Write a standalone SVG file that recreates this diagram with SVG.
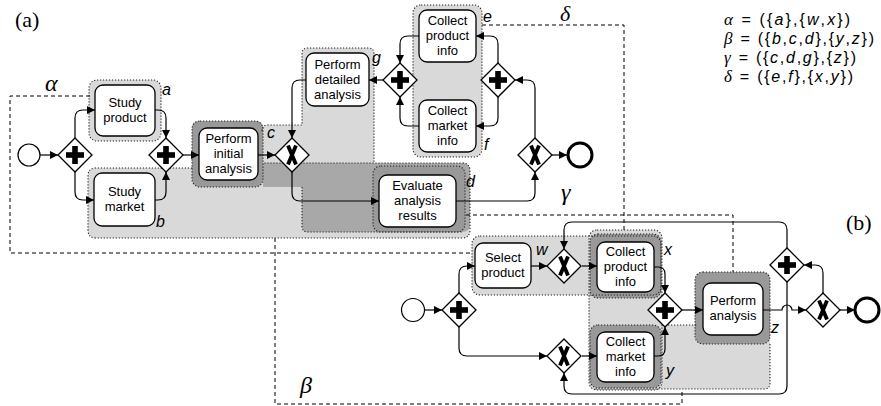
<svg xmlns="http://www.w3.org/2000/svg" width="881" height="406" viewBox="0 0 881 406">
<style>
.bg{fill:#fff}
.lt{fill:#d9d9d9}
.dk{fill:#a8a8a8}
.ring{fill:#999}
.dot{fill:none;stroke:#222;stroke-width:1.1;stroke-dasharray:1.2 1.8}
.dash{fill:none;stroke:#000;stroke-width:1;stroke-dasharray:4 3}
.task{fill:#fff;stroke:#000;stroke-width:1.3}
.tt{font-family:"Liberation Sans",Arial,sans-serif;font-size:13px;fill:#000;text-anchor:middle}
.lb{font-family:"Liberation Sans",Arial,sans-serif;font-size:16px;font-style:italic;fill:#000}
.gk{font-family:"Liberation Serif","Times New Roman",serif;font-size:24px;font-style:italic;fill:#000}
.pl{font-family:"Liberation Serif","Times New Roman",serif;font-size:22px;fill:#000}
.fm{font-family:"Liberation Sans",Arial,sans-serif;font-size:16px;fill:#000}
.fg{font-family:"Liberation Serif","Times New Roman",serif;font-size:17px;font-style:italic}
.it{font-style:italic}
.flow{fill:none;stroke:#000;stroke-width:1.2;marker-end:url(#arr)}
.start{fill:#fff;stroke:#000;stroke-width:1.2}
.end{fill:#fff;stroke:#000;stroke-width:3}
</style>
<defs>
<marker id="arr" viewBox="0 0 10 10" refX="10" refY="5" markerWidth="10" markerHeight="8" markerUnits="userSpaceOnUse" orient="auto">
<path d="M0,0 L10,5 L0,10 Z" fill="#000"/>
</marker>
<g id="and">
<path d="M0,-17 L17,0 L0,17 L-17,0 Z" fill="#fff" stroke="#000" stroke-width="1.3"/>
<rect x="-9" y="-2.8" width="18" height="5.6" fill="#000"/>
<rect x="-2.8" y="-9" width="5.6" height="18" fill="#000"/>
</g>
<g id="xor">
<path d="M0,-17 L17,0 L0,17 L-17,0 Z" fill="#fff" stroke="#000" stroke-width="1.3"/>
<path d="M-4,-9.5 L4,9.5 M4,-9.5 L-4,9.5" stroke="#000" stroke-width="3.8" fill="none"/>
</g>
</defs>
<rect class="bg" x="0" y="0" width="881" height="406"/>

<!-- shaded fragment regions, part (a) -->
<g id="regions-a">
<path class="lt" d="M88,176 Q88,168 96,168 H192 V127 Q192,121 198,121 H257 Q263,121 263,127 V163 H462 Q470,163 470,171 V230 Q470,238 462,238 H96 Q88,238 88,230 Z"/>
<path class="lt" d="M262,131 Q262,125 268,125 H302 V54 Q302,48 308,48 H368 Q374,48 374,54 V163 H462 Q470,163 470,171 V224 Q470,232 462,232 H308 Q302,232 302,226 V187 H262 Z"/>
<path class="dk" d="M263,163 H462 Q470,163 470,171 V224 Q470,232 462,232 H308 Q302,232 302,226 V187 H263 Z"/>
<rect class="ring" x="192" y="121" width="71" height="66" rx="8"/>
<rect class="ring" x="373" y="166" width="92" height="66" rx="8"/>
<rect class="lt" x="89" y="80" width="72" height="61" rx="8"/>
<rect class="lt" x="413" y="5" width="69" height="152" rx="8"/>
<path class="dot" d="M192,168 H96 Q88,168 88,176 V230 Q88,238 96,238 H462 Q470,238 470,230 V171 Q470,163 462,163 H263"/>
<path class="dot" d="M262,131 Q262,125 268,125 H302 V54 Q302,48 308,48 H368 Q374,48 374,54 V163 M302,187 V226 Q302,232 308,232 H462"/>
<rect class="dot" x="192" y="121" width="71" height="66" rx="8"/>
<rect class="dot" x="373" y="166" width="92" height="66" rx="8"/>
<rect class="dot" x="89" y="80" width="72" height="61" rx="8"/>
<rect class="dot" x="413" y="5" width="69" height="152" rx="8"/>
</g>

<!-- shaded fragment regions, part (b) -->
<g id="regions-b">
<rect class="lt" x="472" y="236" width="189" height="59" rx="8"/>
<rect class="lt" x="589" y="230" width="73" height="160" rx="8"/>
<path class="lt" d="M589,325 H697 V278 Q697,272 703,272 H764 Q770,272 770,278 V383 Q770,389 764,389 H595 Q589,389 589,383 Z"/>
<rect class="ring" x="590" y="234" width="71" height="64" rx="8"/>
<rect class="ring" x="590" y="325" width="71" height="63" rx="8"/>
<rect class="ring" x="695" y="272" width="75" height="72" rx="8"/>
<rect class="dot" x="472" y="236" width="189" height="59" rx="8"/>
<rect class="dot" x="589" y="230" width="73" height="160" rx="8"/>
<path class="dot" d="M662,325 H697 M770,344 V383 Q770,389 764,389 H595"/>
<rect class="dot" x="590" y="234" width="71" height="64" rx="8"/>
<rect class="dot" x="590" y="325" width="71" height="63" rx="8"/>
<rect class="dot" x="695" y="272" width="75" height="72" rx="8"/>
</g>

<!-- SESE fragment frames -->
<g id="frames">
<path class="dash" d="M90,96 H10 V253 H472"/>
<path class="dash" d="M275,238 V404 H682 V389"/>
<path class="dash" d="M466,215 H733 V272"/>
<path class="dash" d="M482,25 H624 V230"/>
<text class="gk" x="45" y="91">α</text>
<text class="gk" x="300" y="393">β</text>
<text class="gk" x="561" y="200">γ</text>
<text class="gk" x="560" y="21" style="font-size:22px">δ</text>
</g>

<!-- connectors -->
<g id="connectors">
<path class="flow" d="M40,155 H58"/>
<path class="flow" d="M75,138 V118 Q75,110 83,110 H95"/>
<path class="flow" d="M75,172 V192 Q75,200 83,200 H94"/>
<path class="flow" d="M155,110 H158 Q166,110 166,118 V138"/>
<path class="flow" d="M155,200 H158 Q166,200 166,192 V172"/>
<path class="flow" d="M183,155 H199"/>
<path class="flow" d="M258,155 H275"/>
<path class="flow" d="M306,80 H300 Q292,80 292,88 V138"/>
<path class="flow" d="M292,172 V193 Q292,201 300,201 H379"/>
<path class="flow" d="M383,80 H369"/>
<path class="flow" d="M419,36 H408 Q400,36 400,44 V63"/>
<path class="flow" d="M419,126 H408 Q400,126 400,118 V97"/>
<path class="flow" d="M498,63 V44 Q498,36 490,36 H476"/>
<path class="flow" d="M498,97 V118 Q498,126 490,126 H476"/>
<path class="flow" d="M535,138 V88 Q535,80 527,80 H515"/>
<path class="flow" d="M456,201 H527 Q535,201 535,193 V172"/>
<path class="flow" d="M552,155 H567"/>

<path class="flow" d="M425,310 H442"/>
<path class="flow" d="M459,293 V274 Q459,266 467,266 H475"/>
<path class="flow" d="M459,327 V348 Q459,356 467,356 H547"/>
<path class="flow" d="M531,266 H547"/>
<path class="flow" d="M582,266 H597"/>
<path class="flow" d="M582,356 H597"/>
<path class="flow" d="M654,267 H658 Q665,267 665,274 V293"/>
<path class="flow" d="M654,356 H658 Q665,356 665,349 V327"/>
<path class="flow" d="M682,310 H703"/>
<path class="flow" d="M763,310 H782 A5,5 0 0 1 792,310 H806"/>
<path class="flow" d="M823,293 V273 Q823,265 815,265 H804"/>
<path class="flow" d="M787,248 V230 Q787,222 779,222 H572 Q564,222 564,230 V249"/>
<path class="flow" d="M787,282 V386 Q787,394 779,394 H572 Q564,394 564,386 V373"/>
<path class="flow" d="M840,310 H855"/>
</g>

<!-- part (a) nodes -->
<g id="a-start"><circle class="start" cx="29" cy="155" r="11"/></g>
<g id="a-and1"><use href="#and" x="75" y="155"/></g>
<g id="a-study-product"><rect class="task" x="95" y="85" width="60" height="51" rx="8"/><text class="tt" x="125" y="107">Study</text><text class="tt" x="125" y="122">product</text></g>
<g id="a-study-market"><rect class="task" x="94" y="173" width="61" height="53" rx="8"/><text class="tt" x="124.5" y="196">Study</text><text class="tt" x="124.5" y="211">market</text></g>
<g id="a-and2"><use href="#and" x="166" y="155"/></g>
<g id="a-initial"><rect class="task" x="199" y="128" width="59" height="52" rx="8"/><text class="tt" x="228.5" y="143">Perform</text><text class="tt" x="228.5" y="158">initial</text><text class="tt" x="228.5" y="173">analysis</text></g>
<g id="a-xor1"><use href="#xor" x="292" y="155"/></g>
<g id="a-detailed"><rect class="task" x="306" y="53" width="63" height="53" rx="8"/><text class="tt" x="337.5" y="69">Perform</text><text class="tt" x="337.5" y="84">detailed</text><text class="tt" x="337.5" y="99">analysis</text></g>
<g id="a-and-g"><use href="#and" x="400" y="80"/></g>
<g id="a-collect-product"><rect class="task" x="419" y="10" width="57" height="52" rx="8"/><text class="tt" x="447.5" y="25">Collect</text><text class="tt" x="447.5" y="40">product</text><text class="tt" x="447.5" y="55">info</text></g>
<g id="a-collect-market"><rect class="task" x="419" y="100" width="57" height="52" rx="8"/><text class="tt" x="447.5" y="115">Collect</text><text class="tt" x="447.5" y="130">market</text><text class="tt" x="447.5" y="145">info</text></g>
<g id="a-and3"><use href="#and" x="498" y="80"/></g>
<g id="a-evaluate"><rect class="task" x="379" y="175" width="77" height="52" rx="8"/><text class="tt" x="417.5" y="190">Evaluate</text><text class="tt" x="417.5" y="205">analysis</text><text class="tt" x="417.5" y="220">results</text></g>
<g id="a-xor2"><use href="#xor" x="535" y="155"/></g>
<g id="a-end"><circle class="end" cx="580" cy="155" r="12"/></g>

<!-- part (b) nodes -->
<g id="b-start"><circle class="start" cx="413" cy="310" r="11.5"/></g>
<g id="b-and1"><use href="#and" x="459" y="310"/></g>
<g id="b-select"><rect class="task" x="475" y="243" width="56" height="45" rx="8"/><text class="tt" x="503" y="262">Select</text><text class="tt" x="503" y="277">product</text></g>
<g id="b-xor-w"><use href="#xor" x="564" y="266"/></g>
<g id="b-xor-low"><use href="#xor" x="564" y="356"/></g>
<g id="b-collect-product"><rect class="task" x="597" y="242" width="57" height="50" rx="8"/><text class="tt" x="625.5" y="256">Collect</text><text class="tt" x="625.5" y="271">product</text><text class="tt" x="625.5" y="286">info</text></g>
<g id="b-collect-market"><rect class="task" x="597" y="332" width="57" height="50" rx="8"/><text class="tt" x="625.5" y="346">Collect</text><text class="tt" x="625.5" y="361">market</text><text class="tt" x="625.5" y="376">info</text></g>
<g id="b-and2"><use href="#and" x="665" y="310"/></g>
<g id="b-perform"><rect class="task" x="703" y="283" width="60" height="52" rx="8"/><text class="tt" x="733" y="305">Perform</text><text class="tt" x="733" y="320">analysis</text></g>
<g id="b-and3"><use href="#and" x="787" y="265"/></g>
<g id="b-xor3"><use href="#xor" x="823" y="310"/></g>
<g id="b-end"><circle class="end" cx="867" cy="310" r="12"/></g>

<!-- fragment labels -->
<g id="labels">
<text class="lb" x="162" y="95">a</text>
<text class="lb" x="156" y="227">b</text>
<text class="lb" x="267" y="138">c</text>
<text class="lb" x="466" y="187">d</text>
<text class="lb" x="483" y="22">e</text>
<text class="lb" x="484" y="150">f</text>
<text class="lb" x="372" y="63">g</text>
<text class="lb" x="536" y="255">w</text>
<text class="lb" x="664" y="255">x</text>
<text class="lb" x="666" y="376">y</text>
<text class="lb" x="771" y="333">z</text>
<text class="pl" x="15" y="27">(a)</text>
<text class="pl" x="846" y="230">(b)</text>
</g>

<!-- formulas -->
<g id="formulas">
<text class="fm" x="724" y="25" textLength="126" lengthAdjust="spacing"><tspan class="fg">α</tspan> = ({<tspan class="it">a</tspan>},{<tspan class="it">w</tspan>,<tspan class="it">x</tspan>})</text>
<text class="fm" x="724" y="44" textLength="150" lengthAdjust="spacing"><tspan class="fg">β</tspan> = ({<tspan class="it">b</tspan>,<tspan class="it">c</tspan>,<tspan class="it">d</tspan>},{<tspan class="it">y</tspan>,<tspan class="it">z</tspan>})</text>
<text class="fm" x="724" y="63" textLength="132" lengthAdjust="spacing"><tspan class="fg">γ</tspan> = ({<tspan class="it">c</tspan>,<tspan class="it">d</tspan>,<tspan class="it">g</tspan>},{<tspan class="it">z</tspan>})</text>
<text class="fm" x="724" y="82" textLength="129" lengthAdjust="spacing"><tspan class="fg">δ</tspan> = ({<tspan class="it">e</tspan>,<tspan class="it">f</tspan>},{<tspan class="it">x</tspan>,<tspan class="it">y</tspan>})</text>
</g>
</svg>
